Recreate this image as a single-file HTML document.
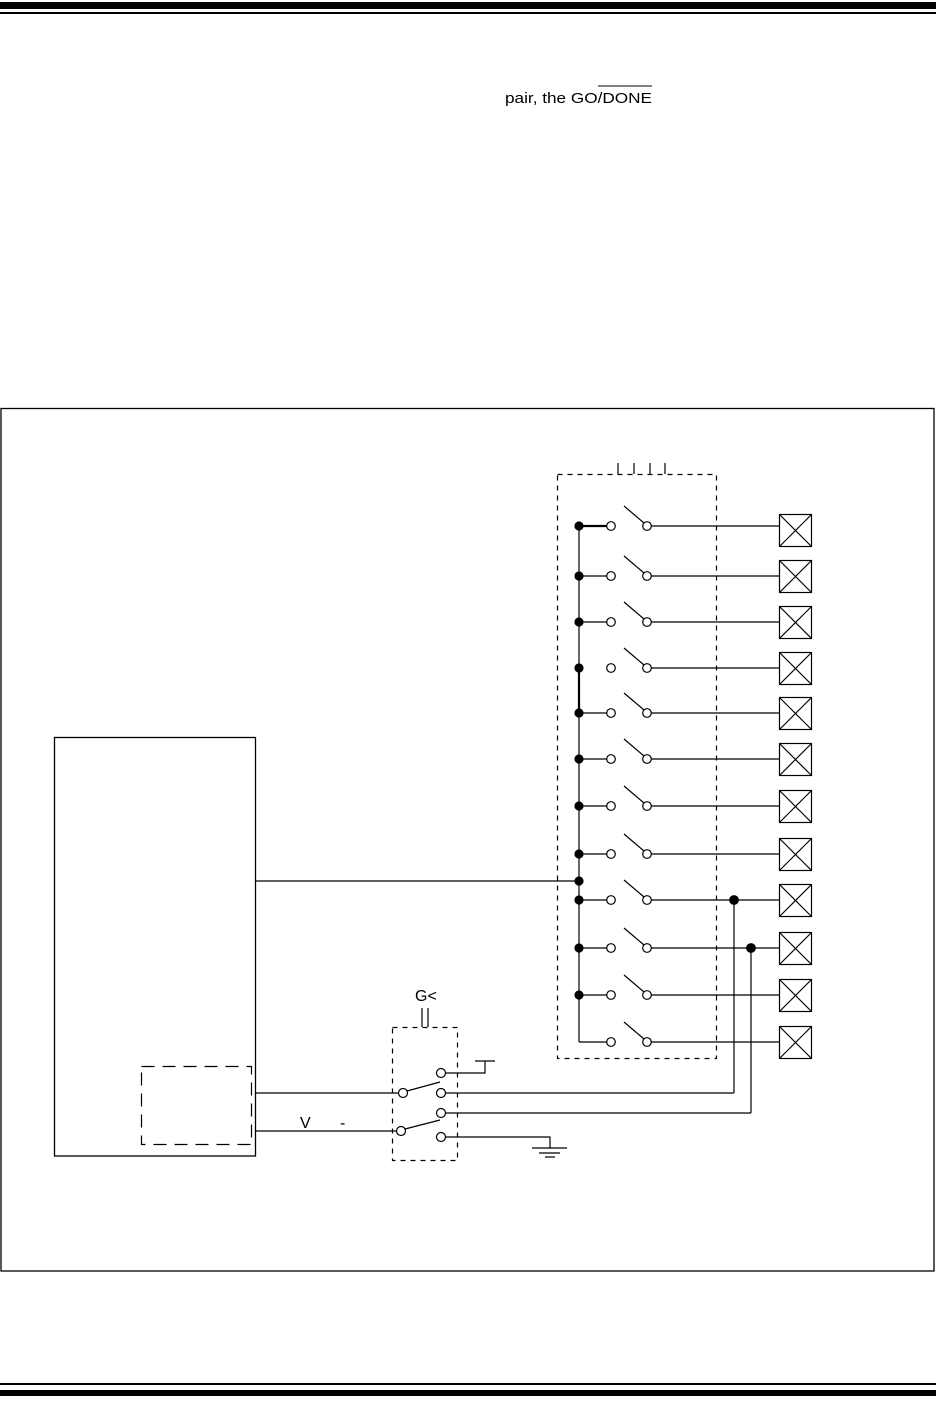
<!DOCTYPE html>
<html><head><meta charset="utf-8"><style>
html,body{margin:0;padding:0;background:#fff}
svg{display:block}
text{font-family:"Liberation Sans",Arial,sans-serif;fill:#000}
</style></head><body>
<svg width="936" height="1412" viewBox="0 0 936 1412" xmlns="http://www.w3.org/2000/svg">
<rect x="0" y="2" width="936" height="7" fill="#000"/>
<rect x="0" y="12" width="936" height="2" fill="#000"/>
<rect x="0" y="1383" width="936" height="2" fill="#000"/>
<rect x="0" y="1390" width="936" height="6" fill="#000"/>
<text x="505" y="103" font-size="15" textLength="147" lengthAdjust="spacingAndGlyphs">pair, the GO/DONE</text>
<line x1="598" y1="86" x2="652" y2="86" stroke="#000" stroke-width="1"/>
<rect x="1" y="408.5" width="933" height="862.5" fill="none" stroke="#000" stroke-width="1.3"/>
<g stroke="#000" stroke-width="1.2" fill="none">
<rect x="557.5" y="474.5" width="159" height="584" stroke-dasharray="5,5"/>
<line x1="618" y1="463" x2="618" y2="474"/><line x1="634" y1="463" x2="634" y2="474"/>
<line x1="650" y1="463" x2="650" y2="474"/><line x1="665" y1="463" x2="665" y2="474"/>
<line x1="579" y1="526" x2="579" y2="1042"/>
<line x1="579" y1="668" x2="579" y2="713" stroke-width="2.2"/>
<line x1="579" y1="526" x2="607" y2="526" stroke-width="2.2"/>
<line x1="579" y1="1042" x2="607" y2="1042"/>
<rect x="54.5" y="737.5" width="201" height="418.5" stroke-width="1.3"/>
<rect x="141.5" y="1066.5" width="110" height="78" stroke-dasharray="13,8"/>
<line x1="256" y1="881" x2="579" y2="881"/>
<line x1="256" y1="1093" x2="399" y2="1093"/>
<line x1="256" y1="1131" x2="397" y2="1131"/>
<text x="300" y="1128" font-size="16" stroke="none">V</text>
<text x="340" y="1128" font-size="16" stroke="none">-</text>
<rect x="392.5" y="1027.5" width="65" height="133" stroke-dasharray="5,5"/>
<text x="415" y="1001" font-size="16" stroke="none">G&lt;</text>
<line x1="422" y1="1008" x2="422" y2="1027"/><line x1="428" y1="1008" x2="428" y2="1027"/>
<circle cx="403" cy="1093" r="4.5" fill="#fff"/>
<circle cx="401" cy="1131" r="4.5" fill="#fff"/>
<circle cx="441" cy="1073" r="4.5" fill="#fff"/>
<circle cx="441" cy="1093" r="4.5" fill="#fff"/>
<circle cx="441" cy="1113" r="4.5" fill="#fff"/>
<circle cx="441" cy="1137" r="4.5" fill="#fff"/>
<line x1="407" y1="1091" x2="440" y2="1082"/>
<line x1="405" y1="1129" x2="440" y2="1120"/>
<polyline points="446,1073 485,1073 485,1061"/><line x1="475" y1="1061" x2="495" y2="1061"/>
<line x1="446" y1="1093" x2="734" y2="1093"/>
<line x1="446" y1="1113" x2="751" y2="1113"/>
<polyline points="446,1137 550,1137 550,1148"/>
<line x1="532" y1="1148" x2="567" y2="1148"/>
<line x1="539" y1="1153" x2="560" y2="1153"/>
<line x1="545" y1="1157" x2="555" y2="1157"/>
<line x1="734" y1="900" x2="734" y2="1093"/>
<line x1="751" y1="948" x2="751" y2="1113"/>

<!-- bus stubs -->
<line x1="579" y1="576" x2="607" y2="576"/>
<line x1="579" y1="622" x2="607" y2="622"/>
<line x1="579" y1="713" x2="607" y2="713"/>
<line x1="579" y1="759" x2="607" y2="759"/>
<line x1="579" y1="806" x2="607" y2="806"/>
<line x1="579" y1="854" x2="607" y2="854"/>
<line x1="579" y1="900" x2="607" y2="900"/>
<line x1="579" y1="948" x2="607" y2="948"/>
<line x1="579" y1="995" x2="607" y2="995"/>

<!-- output lines -->
<line x1="651" y1="526" x2="779" y2="526"/>
<line x1="651" y1="576" x2="779" y2="576"/>
<line x1="651" y1="622" x2="779" y2="622"/>
<line x1="651" y1="668" x2="779" y2="668"/>
<line x1="651" y1="713" x2="779" y2="713"/>
<line x1="651" y1="759" x2="779" y2="759"/>
<line x1="651" y1="806" x2="779" y2="806"/>
<line x1="651" y1="854" x2="779" y2="854"/>
<line x1="651" y1="900" x2="779" y2="900"/>
<line x1="651" y1="948" x2="779" y2="948"/>
<line x1="651" y1="995" x2="779" y2="995"/>
<line x1="651" y1="1042" x2="779" y2="1042"/>

<!-- blades -->
<line x1="624" y1="506" x2="644" y2="523"/>
<line x1="624" y1="556" x2="644" y2="573"/>
<line x1="624" y1="602" x2="644" y2="619"/>
<line x1="624" y1="648" x2="644" y2="665"/>
<line x1="624" y1="693" x2="644" y2="710"/>
<line x1="624" y1="739" x2="644" y2="756"/>
<line x1="624" y1="786" x2="644" y2="803"/>
<line x1="624" y1="834" x2="644" y2="851"/>
<line x1="624" y1="880" x2="644" y2="897"/>
<line x1="624" y1="928" x2="644" y2="945"/>
<line x1="624" y1="975" x2="644" y2="992"/>
<line x1="624" y1="1022" x2="644" y2="1039"/>

<!-- open circles -->
<g fill="#fff">
<circle cx="611" cy="526" r="4.3"/><circle cx="647" cy="526" r="4.3"/>
<circle cx="611" cy="576" r="4.3"/><circle cx="647" cy="576" r="4.3"/>
<circle cx="611" cy="622" r="4.3"/><circle cx="647" cy="622" r="4.3"/>
<circle cx="611" cy="668" r="4.3"/><circle cx="647" cy="668" r="4.3"/>
<circle cx="611" cy="713" r="4.3"/><circle cx="647" cy="713" r="4.3"/>
<circle cx="611" cy="759" r="4.3"/><circle cx="647" cy="759" r="4.3"/>
<circle cx="611" cy="806" r="4.3"/><circle cx="647" cy="806" r="4.3"/>
<circle cx="611" cy="854" r="4.3"/><circle cx="647" cy="854" r="4.3"/>
<circle cx="611" cy="900" r="4.3"/><circle cx="647" cy="900" r="4.3"/>
<circle cx="611" cy="948" r="4.3"/><circle cx="647" cy="948" r="4.3"/>
<circle cx="611" cy="995" r="4.3"/><circle cx="647" cy="995" r="4.3"/>
<circle cx="611" cy="1042" r="4.3"/><circle cx="647" cy="1042" r="4.3"/>
</g>

<!-- filled dots -->
<g fill="#000">
<circle cx="579" cy="526" r="4"/><circle cx="579" cy="576" r="4"/>
<circle cx="579" cy="622" r="4"/><circle cx="579" cy="668" r="4"/>
<circle cx="579" cy="713" r="4"/><circle cx="579" cy="759" r="4"/>
<circle cx="579" cy="806" r="4"/><circle cx="579" cy="854" r="4"/>
<circle cx="579" cy="900" r="4"/><circle cx="579" cy="948" r="4"/>
<circle cx="579" cy="995" r="4"/><circle cx="579" cy="881" r="4"/>
<circle cx="734" cy="900" r="4.3"/><circle cx="751" cy="948" r="4.3"/>
</g>

<!-- X boxes -->
<g fill="#fff">
<rect x="779.5" y="514.5" width="32" height="32"/>
<rect x="779.5" y="560.5" width="32" height="32"/>
<rect x="779.5" y="606.5" width="32" height="32"/>
<rect x="779.5" y="652.5" width="32" height="32"/>
<rect x="779.5" y="697.5" width="32" height="32"/>
<rect x="779.5" y="743.5" width="32" height="32"/>
<rect x="779.5" y="790.5" width="32" height="32"/>
<rect x="779.5" y="838.5" width="32" height="32"/>
<rect x="779.5" y="884.5" width="32" height="32"/>
<rect x="779.5" y="932.5" width="32" height="32"/>
<rect x="779.5" y="979.5" width="32" height="32"/>
<rect x="779.5" y="1026.5" width="32" height="32"/>
</g>
<path d="M780 515L811 546M811 515L780 546
M780 561L811 592M811 561L780 592
M780 607L811 638M811 607L780 638
M780 653L811 684M811 653L780 684
M780 698L811 729M811 698L780 729
M780 744L811 775M811 744L780 775
M780 791L811 822M811 791L780 822
M780 839L811 870M811 839L780 870
M780 885L811 916M811 885L780 916
M780 933L811 964M811 933L780 964
M780 980L811 1011M811 980L780 1011
M780 1027L811 1058M811 1027L780 1058"/>
</g>
</svg>
</body></html>
